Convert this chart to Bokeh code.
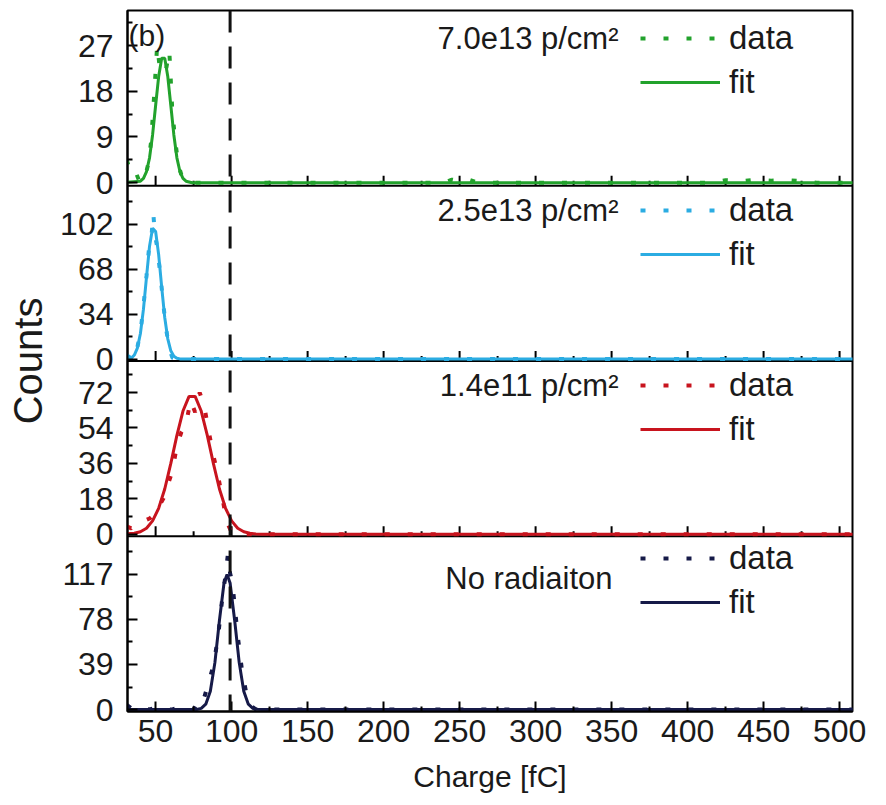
from bokeh.plotting import figure
from bokeh.models import (Range1d, Span, Label, Legend, LegendItem, FixedTicker,
                          CustomJSTickFormatter)
from bokeh.embed import file_html
from bokeh.resources import INLINE

FONT = "Liberation Sans"

# ---------------- data ----------------
x_major_ticks = [50, 100, 150, 200, 250, 300, 350, 400, 450, 500]
x_minor_ticks = [75, 125, 175, 225, 275, 325, 375, 425, 475]
dashed_line_x = 99

# panel: 7.0e13 p/cm2 (green)
green_label = "7.0e13 p/cm²"
green_data_x = [31, 33, 35, 37, 39, 41, 43, 45, 47, 49, 51, 53, 55, 57, 59, 61, 63, 65, 67, 69, 72,
                150, 240, 245, 250, 255, 260, 265, 415, 425, 435, 445, 455, 465, 475, 485, 508]
green_data_y = [4.5, 2.5, 1.5, 2.0, 0.5, 0.0, 1.0, 3.5, 8.0, 17.0, 27.0, 22.0, 23.0, 22.5, 26.0, 14.0, 8.0, 3.5, 1.5, 0.4, 0.0,
                0.0, 0.0, 0.6, 0.3, 0.7, 0.2, 0.0, 0.0, 0.5, 0.3, 0.6, 0.4, 0.5, 0.3, 0.0, 0.0]
green_fit_x = [28, 40, 42, 44, 46, 48, 50, 52, 54, 56, 58, 60, 62, 64, 66, 68, 70, 74, 510]
green_fit_y = [0.0, 0.3, 0.85, 2.2, 4.9, 9.4, 15.2, 20.9, 24.5, 24.5, 20.9, 15.2, 9.4, 4.9, 2.2, 0.85, 0.3, 0.0, 0.0]
green_y_major = [0, 9, 18, 27]
green_y_minor = [4.5, 13.5, 22.5, 31.5]

# panel: 2.5e13 p/cm2 (blue)
blue_label = "2.5e13 p/cm²"
blue_data_x = [31, 33, 35, 36.5, 38, 40, 42, 44, 46, 47.5, 48.5, 49.5, 51, 53, 55, 57, 59, 61, 63, 510]
blue_data_y = [0, 3, 7, 4, 9, 20, 40, 63, 88, 96, 110, 94, 85, 65, 42, 22, 8, 1, 0, 0]
blue_fit_x = [28, 34, 36, 38, 40, 42, 44, 46, 48, 50, 52, 54, 56, 58, 60, 62, 64, 66, 68, 510]
blue_fit_y = [0.0, 0.6, 3.0, 8.3, 19.3, 37.7, 61.9, 85.3, 98.9, 96.4, 78.9, 54.3, 31.4, 15.3, 6.2, 2.1, 0.6, 0.1, 0.0, 0.0]
blue_y_major = [0, 34, 68, 102]
blue_y_minor = [17, 51, 85, 119]

# panel: 1.4e11 p/cm2 (red)
red_label = "1.4e11 p/cm²"
red_data_x = [31, 34, 37, 40, 43, 46, 49, 52, 55, 58, 61, 64, 67, 70, 73, 76, 79, 82, 85, 88, 91, 94, 97, 100, 103, 510]
red_data_y = [4, 3, 5, 6, 7, 8, 10, 14, 18, 25, 32, 45, 52, 56, 68, 62, 72, 65, 52, 40, 30, 18, 6, 1, 0, 0]
red_fit_x = [28, 36, 40, 44, 48, 52, 56, 60, 64, 68, 72, 76, 80, 84, 88, 92, 96, 100, 104, 108, 112, 116, 120, 510]
red_fit_y = [0.1, 0.5, 1.3, 3.1, 6.8, 13.2, 23.0, 36.0, 50.2, 62.6, 70.0, 70.0, 62.6, 50.2, 36.0, 23.0, 13.2, 6.8, 3.1, 1.3, 0.5, 0.2, 0.0, 0.0]
red_y_major = [0, 18, 36, 54, 72]
red_y_minor = [9, 27, 45, 63, 81]

# panel: no radiation (navy)
navy_label = "No radiaiton"
navy_data_x = [31, 34, 38, 42, 46, 51, 56, 61, 66, 71, 75, 78, 81, 85, 88, 91, 94, 96, 97.5, 99, 100.5, 102, 104, 107, 110, 113, 116, 510]
navy_data_y = [4, 1, 0, 2, 0, 2, 0, 0, 2, 0, 0, 8, 6, 24, 38, 62, 98, 116, 134, 118, 110, 90, 64, 32, 12, 3, 0, 0]
navy_fit_x = [28, 77, 80, 83, 86, 89, 92, 95, 97, 99, 102, 105, 108, 111, 114, 117, 120, 510]
navy_fit_y = [0.0, 0.0, 1.0, 4.6, 15.8, 40.6, 77.3, 109.5, 117.0, 109.5, 77.3, 40.6, 15.8, 4.6, 1.0, 0.2, 0.0, 0.0]
navy_y_major = [0, 39, 78, 117]
navy_y_minor = [19.5, 58.5, 97.5, 136.5]

# ---------------- panels, listed bottom to top ----------------
panels = [
    dict(label=navy_label, color="#161a48", dx=navy_data_x, dy=navy_data_y, fx=navy_fit_x, fy=navy_fit_y,
         major=navy_y_major, minor=navy_y_minor, yr=(-1.7, 150), d_row=22, d_lab=42, lab_x=485),
    dict(label=red_label, color="#c8141e", dx=red_data_x, dy=red_data_y, fx=red_fit_x, fy=red_fit_y,
         major=red_y_major, minor=red_y_minor, yr=(-1.0, 88), d_row=24.5, d_lab=24.5, lab_x=491),
    dict(label=blue_label, color="#2bace2", dx=blue_data_x, dy=blue_data_y, fx=blue_fit_x, fy=blue_fit_y,
         major=blue_y_major, minor=blue_y_minor, yr=(-1.5, 131), d_row=25, d_lab=25, lab_x=491),
    dict(label=green_label, color="#22a22c", dx=green_data_x, dy=green_data_y, fx=green_fit_x, fy=green_fit_y,
         major=green_y_major, minor=green_y_minor, yr=(-0.6, 33.9), d_row=28, d_lab=28, lab_x=491),
]
n = len(panels)
FRAME_H = 701
PANEL_H = FRAME_H / n

p = figure(frame_width=725, frame_height=FRAME_H, x_range=Range1d(31.5, 508.5),
           y_range=Range1d(0, n), toolbar_location=None, output_backend="svg",
           min_border_left=127, min_border_right=34, min_border_top=10, min_border_bottom=94,
           outline_line_color="black", outline_line_width=2,
           background_fill_color="white", border_fill_color="white")
p.grid.visible = False

# panel separators
for k in range(1, n):
    p.add_layout(Span(location=k, dimension="width", line_color="black",
                      line_width=2, level="underlay"))

# y axis ticks mapped through each panel's own scale
y_ticks, y_minor = [], []
starts, ends = [], []
for j, s in enumerate(panels):
    s0, s1 = s["yr"]
    span = s1 - s0
    starts.append(s0)
    ends.append(s1)
    p.extra_y_ranges[f"p{j}"] = Range1d(s0 - j * span, s0 + (n - j) * span)
    y_ticks += [j + (v - s0) / span for v in s["major"]]
    y_minor += [j + (v - s0) / span for v in s["minor"]]

ya = p.yaxis[0]
ya.ticker = FixedTicker(ticks=y_ticks, minor_ticks=y_minor)
ya.formatter = CustomJSTickFormatter(args=dict(starts=starts, ends=ends), code="""
    const j = Math.floor(tick);
    const v = starts[j] + (tick - j) * (ends[j] - starts[j]);
    return String(Math.abs(Math.round(v)));
""")
ya.axis_label = "Counts"
ya.axis_label_text_font = FONT
ya.axis_label_text_font_size = "40px"
ya.axis_label_text_font_style = "normal"
ya.axis_label_text_color = "#1a1a1a"
ya.axis_label_standoff = 7

xa = p.xaxis[0]
xa.ticker = FixedTicker(ticks=x_major_ticks, minor_ticks=x_minor_ticks)
xa.axis_label = "Charge [fC]"
xa.axis_label_text_font = FONT
xa.axis_label_text_font_size = "30px"
xa.axis_label_text_font_style = "normal"
xa.axis_label_text_color = "#1a1a1a"
xa.axis_label_standoff = 15
xa.major_label_standoff = 8

for ax in (xa, ya):
    ax.major_tick_in = 10
    ax.major_tick_out = 0
    ax.minor_tick_in = 5
    ax.minor_tick_out = 0
    ax.axis_line_width = 2
    ax.major_tick_line_width = 2
    ax.minor_tick_line_width = 2
    ax.axis_line_color = "black"
    ax.major_label_text_font = FONT
    ax.major_label_text_font_size = "32px"
    ax.major_label_text_color = "#1a1a1a"
ya.major_label_standoff = 14

# inward x ticks at the bottom of each upper panel
tick_major_len = 10 / PANEL_H
tick_minor_len = 5 / PANEL_H
for k in range(1, n):
    p.segment(x0=x_major_ticks, y0=[k] * len(x_major_ticks), x1=x_major_ticks,
              y1=[k + tick_major_len] * len(x_major_ticks), line_color="black", line_width=2)
    p.segment(x0=x_minor_ticks, y0=[k] * len(x_minor_ticks), x1=x_minor_ticks,
              y1=[k + tick_minor_len] * len(x_minor_ticks), line_color="black", line_width=2)

for j, s in enumerate(panels):
    rd = p.line(s["dx"], s["dy"], y_range_name=f"p{j}", line_color=s["color"],
                line_width=4, line_dash="5 18")
    rf = p.line(s["fx"], s["fy"], y_range_name=f"p{j}", line_color=s["color"], line_width=3)

    top_px = (j + 1) * PANEL_H
    leg = Legend(items=[LegendItem(label="data", renderers=[rd]),
                        LegendItem(label="fit", renderers=[rf])],
                 location=(513, top_px - s["d_row"] - 63), glyph_width=80, glyph_height=38,
                 label_height=38, label_standoff=9, spacing=6, padding=0, margin=0,
                 border_line_color=None, background_fill_alpha=0,
                 label_text_font=FONT, label_text_font_size="33px", label_text_color="#1a1a1a")
    p.add_layout(leg)

    p.add_layout(Label(x=s["lab_x"], y=top_px - s["d_lab"], x_units="screen", y_units="screen",
                       text=s["label"], text_align="right", text_baseline="middle",
                       text_font=FONT, text_font_size="31px", text_color="#1a1a1a"))

p.add_layout(Label(x=1, y=FRAME_H - 25, x_units="screen", y_units="screen", text="(b)",
                   text_align="left", text_baseline="middle",
                   text_font=FONT, text_font_size="30px", text_color="#1a1a1a"))

p.add_layout(Span(location=dashed_line_x, dimension="height", line_color="#111111",
                  line_width=3, line_dash="22 14"))

open("out.html", "w").write(file_html(p, INLINE))
